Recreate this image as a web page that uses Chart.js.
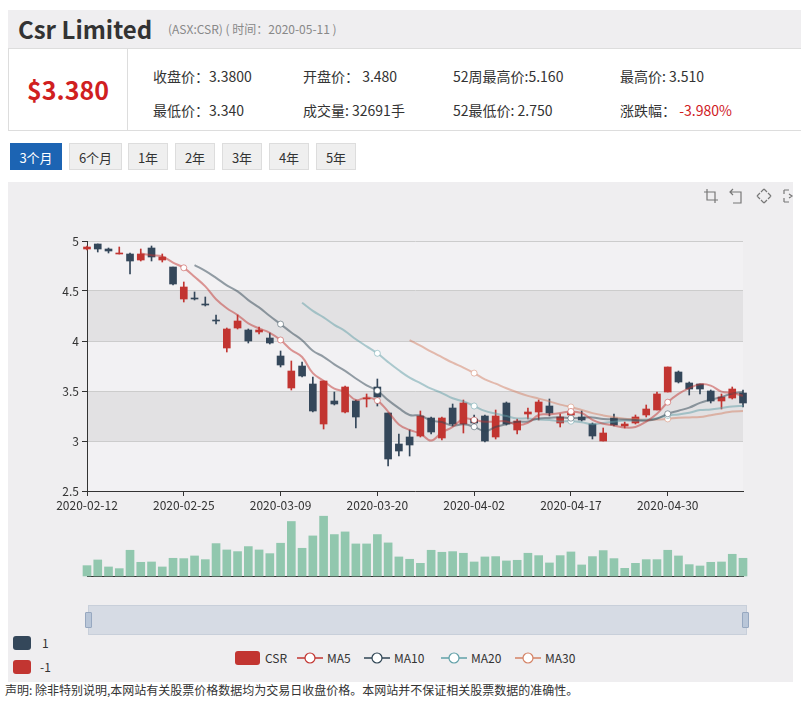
<!DOCTYPE html>
<html lang="zh">
<head>
<meta charset="UTF-8">
<title>Csr Limited</title>
<script src="https://cdn.jsdelivr.net/npm/chart.js@4/dist/chart.umd.min.js"></script>
<style>
  body { margin: 0; width: 801px; height: 709px; background: #fff; position: relative; overflow: hidden;
         font-family: "Noto Sans CJK SC", "Noto Sans", sans-serif; color: #333; }
  .titlebar { position: absolute; left: 8px; top: 10px; width: 793px; height: 38px; background: #efeef0; }
  .titlebar h1 { position: absolute; left: 10px; top: 2px; margin: 0; font-size: 24px; font-weight: bold; color: #333; line-height: 34px; }
  .titlebar .sub { position: absolute; left: 160px; top: 11px; font-size: 12px; color: #888; line-height: 16px; }
  .info { position: absolute; left: 8px; top: 48px; width: 793px; height: 81px; border-top: 1px solid #ddd; border-bottom: 1px solid #ddd; border-left: 1px solid #ddd; background: #fff; }
  .price { position: absolute; left: 0; top: 0; width: 118px; height: 81px; border-right: 1px solid #ddd;
           color: #d0201f; font-size: 25px; font-weight: bold; line-height: 81px; text-align: center; }
  .f { position: absolute; font-size: 14px; line-height: 20px; white-space: nowrap; }
  .red { color: #d0201f; }
  .btn { position: absolute; top: 143px; height: 27px; line-height: 27px; font-size: 13px; text-align: center;
         background: #efefef; border: 1px solid #ddd; box-sizing: border-box; color: #333; }
  .btn.on { background: #1c64b3; color: #fff; border-color: #1c64b3; }
  .panel { position: absolute; left: 8px; top: 182px; width: 785px; height: 500px; background: #efeef0; }
  canvas { position: absolute; left: 0; }
  .tool { position: absolute; top: 188px; }
  .slider { position: absolute; left: 88px; top: 605px; width: 657px; height: 28px; background: #d6dbe4; border: 1px solid #c8cfda; }
  .handle { position: absolute; top: 612px; width: 5px; height: 14px; background: #b9c6d8; border: 1px solid #97a8c0; border-radius: 1px; }
  .vm { position: absolute; left: 13px; width: 18px; height: 14px; border-radius: 3px; }
  .vmt { position: absolute; font-size: 12px; line-height: 14px; }
  .legend { position: absolute; top: 650px; left: 0; width: 801px; height: 16px; font-size: 12px; }
  .lg { position: absolute; top: 0; line-height: 16px; }
  .note { position: absolute; left: 5px; top: 682px; font-size: 12px; line-height: 16px; color: #333; }
</style>
</head>
<body>
<div class="titlebar">
  <h1>Csr Limited</h1>
  <span class="sub">(ASX:CSR) ( 时间：2020-05-11 )</span>
</div>
<div class="info">
  <div class="price">$3.380</div>
  <div class="f" style="left:144px;top:17px">收盘价：3.3800</div>
  <div class="f" style="left:294px;top:17px">开盘价： 3.480</div>
  <div class="f" style="left:444px;top:17px">52周最高价:5.160</div>
  <div class="f" style="left:611px;top:17px">最高价: 3.510</div>
  <div class="f" style="left:144px;top:51px">最低价：3.340</div>
  <div class="f" style="left:294px;top:51px">成交量: 32691手</div>
  <div class="f" style="left:444px;top:51px">52最低价: 2.750</div>
  <div class="f" style="left:611px;top:51px">涨跌幅： <span class="red">-3.980%</span></div>
</div>
<div class="btn on" style="left:10px;width:52px">3个月</div>
<div class="btn" style="left:69px;width:53px">6个月</div>
<div class="btn" style="left:128px;width:40px">1年</div>
<div class="btn" style="left:175px;width:40px">2年</div>
<div class="btn" style="left:222px;width:40px">3年</div>
<div class="btn" style="left:269px;width:40px">4年</div>
<div class="btn" style="left:316px;width:40px">5年</div>

<div class="panel"></div>
<svg class="tool" style="left:703px" width="16" height="16"><path d="M1 4H12V15M4 1V12H15" fill="none" stroke="#777" stroke-width="1.2"/></svg>
<svg class="tool" style="left:729px" width="16" height="16"><path d="M4 1L1 4L4 7M1 4H12V15H4" fill="none" stroke="#777" stroke-width="1.2"/></svg>
<svg class="tool" style="left:756px" width="16" height="16"><path d="M8 1L5 4M8 1L11 4M8 15L5 12M8 15L11 12M1 8L4 5M1 8L4 11M15 8L12 5M15 8L12 11" fill="none" stroke="#777" stroke-width="1.2"/></svg>
<svg class="tool" style="left:782px" width="16" height="16"><path d="M2 2H7M2 2V6M2 14H7M2 14V10M7 6L10 8L7 10" fill="none" stroke="#777" stroke-width="1.2"/></svg>

<canvas id="mainChart" width="801" height="340" style="top:182px"></canvas>
<canvas id="volChart" width="801" height="80" style="top:500px"></canvas>

<div class="slider"></div>
<div class="handle" style="left:85px"></div>
<div class="handle" style="left:742px"></div>

<div class="vm" style="top:636px;background:#34475a"></div>
<div class="vmt" style="left:42px;top:636px">1</div>
<div class="vm" style="top:660px;background:#c23531"></div>
<div class="vmt" style="left:40px;top:660px">-1</div>

<div class="legend">
  <div class="lg" style="left:235px;top:1px;width:25px;height:14px;background:#c23531;border-radius:3px"></div>
  <div class="lg" style="left:265px">CSR</div>
  <svg class="lg" style="left:297px" width="26" height="16"><line x1="0" y1="8" x2="26" y2="8" stroke="#c23531" stroke-width="1.5"/><circle cx="13" cy="8" r="5" fill="#fff" stroke="#c23531" stroke-width="1.2"/></svg>
  <div class="lg" style="left:327px">MA5</div>
  <svg class="lg" style="left:364px" width="26" height="16"><line x1="0" y1="8" x2="26" y2="8" stroke="#2f4554" stroke-width="1.5"/><circle cx="13" cy="8" r="5" fill="#fff" stroke="#2f4554" stroke-width="1.2"/></svg>
  <div class="lg" style="left:394px">MA10</div>
  <svg class="lg" style="left:441px" width="26" height="16"><line x1="0" y1="8" x2="26" y2="8" stroke="#61a0a8" stroke-width="1.5"/><circle cx="13" cy="8" r="5" fill="#fff" stroke="#61a0a8" stroke-width="1.2"/></svg>
  <div class="lg" style="left:471px">MA20</div>
  <svg class="lg" style="left:515px" width="26" height="16"><line x1="0" y1="8" x2="26" y2="8" stroke="#d48265" stroke-width="1.5"/><circle cx="13" cy="8" r="5" fill="#fff" stroke="#d48265" stroke-width="1.2"/></svg>
  <div class="lg" style="left:545px">MA30</div>
</div>

<div class="note">声明: 除非特别说明,本网站有关股票价格数据均为交易日收盘价格。本网站并不保证相关股票数据的准确性。</div>

<script>
// 日期（交易日）
const dates = [
  "2020-02-12", "2020-02-13", "2020-02-14", "2020-02-17", "2020-02-18", "2020-02-19", "2020-02-20", "2020-02-21",
  "2020-02-24", "2020-02-25", "2020-02-26", "2020-02-27", "2020-02-28",
  "2020-03-02", "2020-03-03", "2020-03-04", "2020-03-05", "2020-03-06", "2020-03-09", "2020-03-10", "2020-03-11",
  "2020-03-12", "2020-03-13", "2020-03-16", "2020-03-17", "2020-03-18", "2020-03-19", "2020-03-20", "2020-03-23",
  "2020-03-24", "2020-03-25", "2020-03-26", "2020-03-27", "2020-03-30", "2020-03-31",
  "2020-04-01", "2020-04-02", "2020-04-03", "2020-04-06", "2020-04-07", "2020-04-08", "2020-04-09", "2020-04-14",
  "2020-04-15", "2020-04-16", "2020-04-17", "2020-04-20", "2020-04-21", "2020-04-22", "2020-04-23", "2020-04-24",
  "2020-04-27", "2020-04-28", "2020-04-29", "2020-04-30",
  "2020-05-01", "2020-05-04", "2020-05-05", "2020-05-06", "2020-05-07", "2020-05-08", "2020-05-11"
];

// K线数据
const opens = [
  4.92, 4.97, 4.92, 4.87, 4.87, 4.81, 4.93, 4.81, 4.74, 4.42,
  4.43, 4.37, 4.21, 3.93, 4.13, 4.11, 4.09, 4.03, 3.85, 3.53,
  3.75, 3.57, 3.17, 3.40, 3.29, 3.40, 3.42, 3.54, 3.28, 2.97,
  3.04, 3.05, 3.23, 3.03, 3.33, 3.17, 3.22, 3.25, 3.04, 3.38,
  3.11, 3.27, 3.29, 3.35, 3.18, 3.26, 3.24, 3.17, 3.00, 3.23,
  3.15, 3.18, 3.26, 3.31, 3.49, 3.69, 3.58, 3.57, 3.50, 3.40,
  3.43, 3.48
];
const closes = [
  4.94, 4.92, 4.90, 4.88, 4.80, 4.87, 4.84, 4.84, 4.57, 4.54,
  4.42, 4.36, 4.20, 4.12, 4.20, 4.00, 4.11, 3.98, 3.76, 3.70,
  3.65, 3.30, 3.60, 3.37, 3.54, 3.24, 3.43, 3.44, 2.82, 2.90,
  2.96, 3.25, 3.09, 3.23, 3.17, 3.38, 3.18, 3.00, 3.25, 3.17,
  3.20, 3.29, 3.39, 3.28, 3.24, 3.28, 3.21, 3.05, 3.08, 3.16,
  3.17, 3.24, 3.32, 3.47, 3.74, 3.59, 3.52, 3.52, 3.40, 3.44,
  3.52, 3.38
];
const highs = [
  4.95, 4.97, 4.93, 4.94, 4.88, 4.92, 4.95, 4.87, 4.74, 4.59,
  4.49, 4.44, 4.26, 4.13, 4.26, 4.12, 4.14, 4.08, 3.90, 3.80,
  3.79, 3.64, 3.60, 3.49, 3.55, 3.41, 3.47, 3.62, 3.28, 3.07,
  3.11, 3.30, 3.24, 3.24, 3.37, 3.41, 3.26, 3.26, 3.31, 3.39,
  3.22, 3.33, 3.41, 3.42, 3.27, 3.32, 3.30, 3.18, 3.13, 3.27,
  3.19, 3.26, 3.36, 3.49, 3.74, 3.70, 3.59, 3.57, 3.51, 3.47,
  3.54, 3.51
];
const lows = [
  4.91, 4.89, 4.88, 4.87, 4.67, 4.80, 4.80, 4.79, 4.56, 4.39,
  4.41, 4.35, 4.17, 3.89, 4.12, 3.98, 4.07, 3.97, 3.74, 3.51,
  3.64, 3.29, 3.12, 3.36, 3.28, 3.13, 3.34, 3.35, 2.75, 2.85,
  2.85, 3.04, 3.07, 3.01, 3.15, 3.08, 3.15, 2.99, 3.02, 3.16,
  3.07, 3.22, 3.21, 3.25, 3.14, 3.22, 3.20, 3.02, 3.00, 3.15,
  3.13, 3.17, 3.24, 3.31, 3.49, 3.58, 3.46, 3.47, 3.38, 3.32,
  3.42, 3.34
];

// 成交量（手）
const volumes = [
  19100, 29600, 16700, 13600, 47500, 25300, 25900, 16700, 32700, 32100,
  37000, 30200, 59800, 48100, 45000, 54300, 48100, 41300, 60500, 100600,
  51200, 74000, 110400, 76500, 81400, 59200, 59200, 76500, 61100, 35200,
  30900, 23400, 47500, 43800, 45000, 42000, 25900, 35200, 35800, 27800,
  29000, 42000, 37600, 24100, 37600, 44400, 20400, 35800, 46900, 32100,
  14200, 23400, 30200, 30200, 47500, 37000, 21000, 18500, 25300, 25900,
  40100, 32691
];

// 均线
const ma5 = [
  null, null, null, null, null, 4.874, 4.858, 4.846, 4.784, 4.732,
  4.642, 4.546, 4.418, 4.328, 4.260, 4.176, 4.126, 4.082, 4.010, 3.910,
  3.840, 3.678, 3.602, 3.524, 3.492, 3.410, 3.436, 3.404, 3.294, 3.166,
  3.110, 3.074, 3.004, 3.086, 3.140, 3.224, 3.210, 3.192, 3.196, 3.196,
  3.160, 3.182, 3.260, 3.266, 3.280, 3.296, 3.280, 3.212, 3.172, 3.156,
  3.134, 3.140, 3.194, 3.272, 3.388, 3.472, 3.528, 3.568, 3.554, 3.494,
  3.480, 3.452
];
const ma10 = [
  null, null, null, null, null, null, null, null, null, null,
  4.758, 4.702, 4.632, 4.556, 4.496, 4.409, 4.336, 4.250, 4.169, 4.085,
  4.008, 3.902, 3.842, 3.767, 3.701, 3.625, 3.557, 3.503, 3.409, 3.329,
  3.260, 3.255, 3.204, 3.190, 3.153, 3.167, 3.142, 3.098, 3.141, 3.168,
  3.192, 3.196, 3.226, 3.231, 3.238, 3.228, 3.231, 3.236, 3.219, 3.218,
  3.215, 3.210, 3.203, 3.222, 3.272, 3.303, 3.334, 3.381, 3.413, 3.441,
  3.476, 3.490
];
const ma20 = [
  null, null, null, null, null, null, null, null, null, null,
  null, null, null, null, null, null, null, null, null, null,
  4.383, 4.302, 4.237, 4.162, 4.099, 4.017, 3.947, 3.877, 3.789, 3.707,
  3.634, 3.579, 3.523, 3.479, 3.427, 3.396, 3.350, 3.301, 3.275, 3.249,
  3.226, 3.226, 3.215, 3.211, 3.196, 3.198, 3.187, 3.167, 3.180, 3.193,
  3.204, 3.203, 3.215, 3.227, 3.255, 3.266, 3.283, 3.309, 3.316, 3.330,
  3.346, 3.350
];
const ma30 = [
  null, null, null, null, null, null, null, null, null, null,
  null, null, null, null, null, null, null, null, null, null,
  null, null, null, null, null, null, null, null, null, null,
  4.009, 3.953, 3.893, 3.838, 3.783, 3.734, 3.679, 3.617, 3.573, 3.528,
  3.487, 3.451, 3.424, 3.396, 3.364, 3.340, 3.310, 3.279, 3.256, 3.238,
  3.223, 3.220, 3.211, 3.215, 3.221, 3.233, 3.236, 3.239, 3.258, 3.276,
  3.295, 3.299
];

const upColor = "#c23531";
const downColor = "#34475a";
const labelStep = 9;

Chart.defaults.font.family = "'Noto Sans CJK SC', 'Noto Sans', sans-serif";
Chart.defaults.font.size = 12;
Chart.defaults.color = "#333";
Chart.defaults.animation = false;

const candleColors = closes.map((c, i) => (c < opens[i] ? downColor : upColor));

// 背景の帯
const bandPlugin = {
  id: "bands",
  beforeDraw(chart) {
    const { ctx, chartArea, scales } = chart;
    const y = scales.y;
    const ticks = y.ticks;
    for (let i = 0; i < ticks.length - 1; i++) {
      const top = y.getPixelForValue(ticks[i + 1].value);
      const bottom = y.getPixelForValue(ticks[i].value);
      ctx.fillStyle = i % 2 === 0 ? "#f2f1f3" : "#e2e1e3";
      ctx.fillRect(chartArea.left, top, chartArea.width, bottom - top);
    }
  },
};

function maSet(label, data, color) {
  return {
    type: "line",
    label: label,
    data: data,
    borderColor: color,
    borderWidth: 2,
    tension: 0.4,
    pointRadius: (c) => (c.dataIndex % labelStep === 0 ? 3 : 0),
    pointBackgroundColor: "#fff",
    pointBorderColor: color,
    pointBorderWidth: 1,
    order: 0,
  };
}

new Chart(document.getElementById("mainChart"), {
  type: "bar",
  data: {
    labels: dates,
    datasets: [
      {
        label: "CSR",
        data: opens.map((o, i) => [o, closes[i]]),
        backgroundColor: candleColors,
        barThickness: 7,
        grouped: false,
        clip: false,
        order: 1,
      },
      {
        label: "wick",
        data: lows.map((l, i) => [l, highs[i]]),
        backgroundColor: candleColors,
        barThickness: 1,
        grouped: false,
        clip: false,
        order: 2,
      },
      maSet("MA5", ma5, "rgba(194,53,49,0.5)"),
      maSet("MA10", ma10, "rgba(47,69,84,0.5)"),
      maSet("MA20", ma20, "rgba(97,160,168,0.5)"),
      maSet("MA30", ma30, "rgba(212,130,101,0.5)"),
    ],
  },
  options: {
    responsive: false,
    layout: { padding: { left: 0, right: 58, top: 59, bottom: 0 } },
    plugins: { legend: { display: false }, tooltip: { enabled: false } },
    scales: {
      x: {
        offset: false,
        afterBuildTicks: (scale) => {
          scale.ticks = scale.ticks.filter((t) => t.value % labelStep === 0);
        },
        afterFit: (scale) => { scale.height = 31; },
        ticks: { autoSkip: false, maxRotation: 0, padding: 2 },
        grid: { offset: false, drawOnChartArea: false, tickLength: 5, tickColor: "#333" },
        border: { color: "#333" },
      },
      y: {
        min: 2.5,
        max: 5,
        ticks: { stepSize: 0.5, padding: 3, callback: (v) => String(Number(v)) },
        afterFit: (scale) => { scale.width = 87; },
        grid: { color: "#cccccc", tickLength: 5, tickColor: "#333" },
        border: { color: "#333" },
      },
    },
  },
  plugins: [bandPlugin],
});

new Chart(document.getElementById("volChart"), {
  type: "bar",
  data: {
    labels: dates,
    datasets: [
      {
        label: "Volume",
        data: volumes,
        backgroundColor: "#91c7ae",
        barThickness: 8,
        clip: false,
      },
    ],
  },
  options: {
    responsive: false,
    layout: { padding: { left: 87, right: 58, top: 11, bottom: 0 } },
    plugins: { legend: { display: false }, tooltip: { enabled: false } },
    scales: {
      x: {
        offset: false,
        afterFit: (scale) => { scale.height = 4; },
        ticks: { display: false },
        grid: { display: false },
        border: { color: "#333" },
      },
      y: { display: false, min: 0, max: 120000 },
    },
  },
});
</script>
</body>
</html>
